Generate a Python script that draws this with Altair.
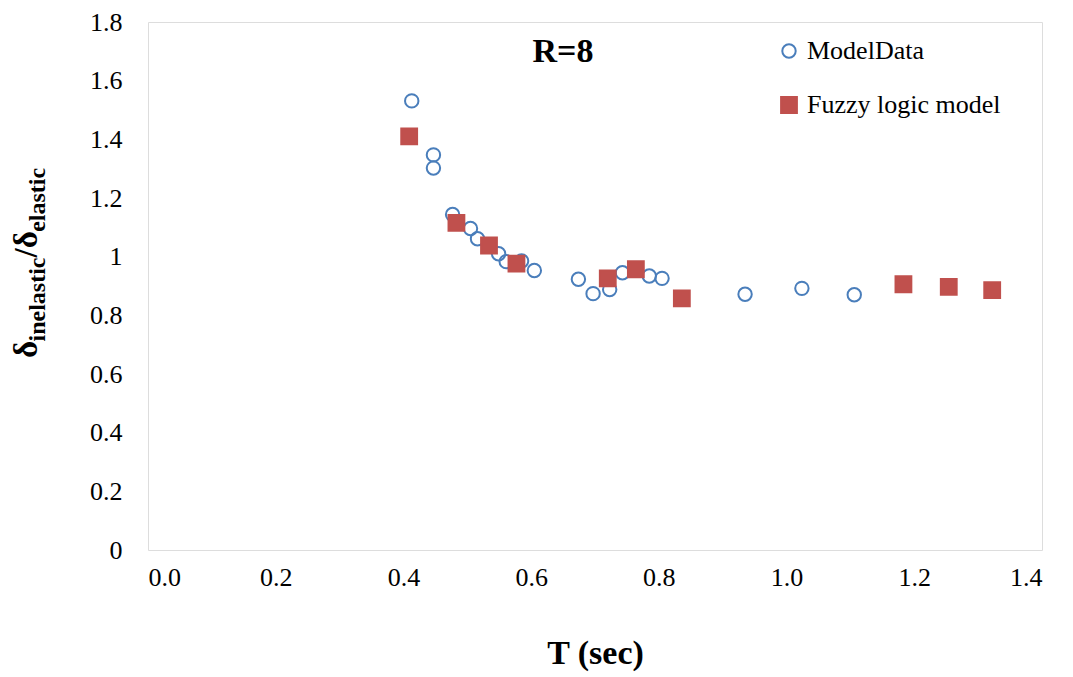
import altair as alt
import pandas as pd

# ---- data ----
series_names = ["ModelData", "Fuzzy logic model"]

model_T = [0.413, 0.447, 0.447, 0.477, 0.505, 0.516, 0.549, 0.561, 0.585, 0.605,
           0.674, 0.697, 0.723, 0.743, 0.785, 0.805, 0.935, 1.024, 1.106]
model_R = [1.531, 1.347, 1.302, 1.144, 1.096, 1.061, 1.010, 0.983, 0.985, 0.953,
           0.923, 0.874, 0.888, 0.945, 0.934, 0.926, 0.872, 0.892, 0.870]

fuzzy_T = [0.409, 0.483, 0.534, 0.577, 0.720, 0.764, 0.836, 1.183, 1.254, 1.322]
fuzzy_R = [1.410, 1.115, 1.038, 0.976, 0.926, 0.957, 0.858, 0.906, 0.897, 0.886]

x_ticks = [0.0, 0.2, 0.4, 0.6, 0.8, 1.0, 1.2, 1.4]
y_ticks = [0.0, 0.2, 0.4, 0.6, 0.8, 1.0, 1.2, 1.4, 1.6, 1.8]

panel_label = "R=8"
x_title = "T  (sec)"
# y title pieces: (text, font size, is_subscript)
y_title_parts = [("δ", 33, False), ("inelastic", 24, True), ("/δ", 33, False), ("elastic", 24, True)]

FONT = "Liberation Serif"
BLUE = "#4A7EBB"
RED = "#C0504D"

df = pd.concat([
    pd.DataFrame({"T": model_T, "R": model_R, "series": series_names[0]}),
    pd.DataFrame({"T": fuzzy_T, "R": fuzzy_R, "series": series_names[1]}),
], ignore_index=True)

W, H = 894, 528

points = alt.Chart(df).mark_point(filled=True, strokeWidth=2, opacity=1).encode(
    x=alt.X("T:Q", scale=alt.Scale(domain=[0, 1.4], nice=False, zero=False),
            axis=alt.Axis(values=x_ticks, format=".1f", title=x_title, grid=False,
                          ticks=False, domain=False, labelFont=FONT, labelFontSize=26,
                          labelColor="black", labelPadding=14, titleFont=FONT,
                          titleFontSize=34, titleFontWeight="bold", titleColor="black",
                          titlePadding=46)),
    y=alt.Y("R:Q", scale=alt.Scale(domain=[0, 1.8], nice=False),
            axis=alt.Axis(values=y_ticks, format=".1~f", title=None, grid=False,
                          ticks=False, domain=False, labelFont=FONT, labelFontSize=26,
                          labelColor="black", labelPadding=26)),
    shape=alt.Shape("series:N", scale=alt.Scale(domain=series_names, range=["circle", "square"]),
                    legend=alt.Legend(title=None, orient="none", legendX=628, legendY=16,
                                      labelFont=FONT, labelFontSize=26, labelColor="black",
                                      labelLimit=0, rowPadding=28, labelOffset=5, padding=0,
                                      symbolStrokeWidth=2, symbolSize=230)),
    stroke=alt.Stroke("series:N", scale=alt.Scale(domain=series_names, range=[BLUE, RED])),
    fill=alt.Fill("series:N", scale=alt.Scale(domain=series_names, range=["transparent", RED])),
    size=alt.Size("series:N", scale=alt.Scale(domain=series_names, range=[180, 250])),
)

r_label = alt.Chart(pd.DataFrame({"t": [panel_label]})).mark_text(
    font=FONT, fontSize=34, fontWeight="bold", color="black", align="center", baseline="middle"
).encode(x=alt.value(415), y=alt.value(30), text="t:N")

# build the y-axis title from pieces (subscripts), rotated
em = {"δ": 0.5, "i": 0.278, "n": 0.556, "e": 0.444, "l": 0.278, "a": 0.5, "s": 0.389,
      "t": 0.333, "c": 0.444, "/": 0.278}
layers = [points, r_label]
ypos = 336
for txt, fs, sub in y_title_parts:
    layers.append(
        alt.Chart(pd.DataFrame({"t": [txt]})).mark_text(
            font=FONT, fontSize=fs, fontWeight="bold", color="black", angle=270,
            align="left", baseline="alphabetic"
        ).encode(x=alt.value(-103 if sub else -111), y=alt.value(ypos), text="t:N")
    )
    ypos -= sum(em.get(ch, 0.5) for ch in txt) * fs

chart = alt.layer(*layers).properties(
    width=W, height=H,
    autosize=alt.AutoSizeParams(type="none"),
    padding={"left": 140, "top": 14, "right": 23, "bottom": 127},
).configure_view(stroke="#8C8C8C", strokeWidth=2).configure(background="white")

chart.save("out.html", embed_options={"renderer": "svg", "actions": False})
